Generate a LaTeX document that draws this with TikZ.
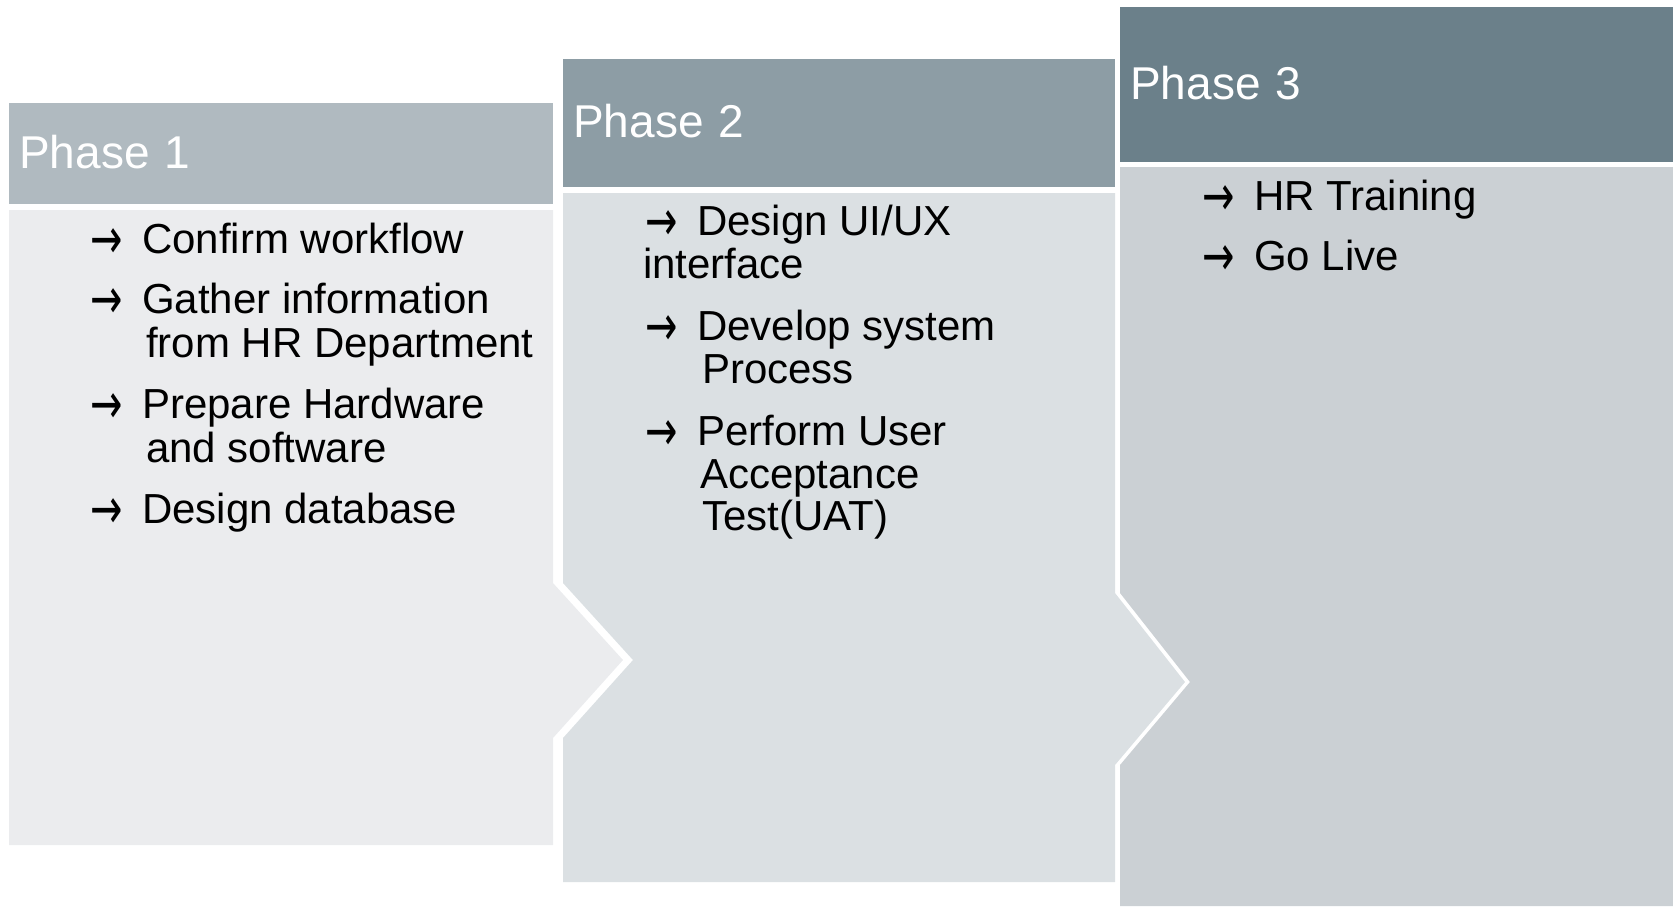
\documentclass[tikz,border=0pt]{standalone}
\usepackage{fontspec}
\setmainfont{Liberation Sans}
\newfontfamily\arrfont{DejaVu Sans}
\usepackage{tikz}
\definecolor{ph1col}{HTML}{B0BAC0}
\definecolor{ph2col}{HTML}{8D9DA5}
\definecolor{ph3col}{HTML}{6B808A}
\definecolor{ph1bg}{HTML}{EBECEE}
\definecolor{ph2bg}{HTML}{DBE0E3}
\definecolor{ph3bg}{HTML}{CBD0D4}
% bullet arrow in a fixed-width box, so the task text lines up
\newcommand{\arr}{\makebox[52pt][l]{\smash{\raisebox{-5pt}{\scalebox{0.92}[1.35]{\arrfont →}}}}}

\begin{document}
\begin{tikzpicture}[x=1pt, y=-1pt,
  head/.style={anchor=north west, inner xsep=10pt, inner ysep=0pt, text=white,
    align=left, text depth=4pt, font=\fontsize{46}{52}\selectfont},
  item/.style={anchor=base west, inner sep=0pt, font=\fontsize{42}{44}\selectfont}]
\useasboundingbox (0,0) rectangle (1673,906);

% ---------------------------------------------------------- body panels
% phase 1 ends in a chevron, the next panels carry the matching notch
\fill[ph1bg] (9,210) -- (553,210) -- (553,583) -- (623,660) -- (553,738)
  -- (553,845) -- (9,845) -- cycle;
\fill[ph2bg] (563,193) -- (1115,193) -- (1115,593) -- (1185,682) -- (1115,765)
  -- (1115,882) -- (563,882) -- (563,738) -- (633,660) -- (563,583) -- cycle;
\fill[ph3bg] (1120,167) -- (1673,167) -- (1673,906) -- (1120,906)
  -- (1120,765) -- (1190,682) -- (1120,593) -- cycle;

% ---------------------------------------------------------- header bars
\node[head, fill=ph1col, minimum height=101pt, text width=524pt] (h1) at (9,103) {Phase 1};
\node[head, fill=ph2col, minimum height=128pt, text width=532pt] (h2) at (563,59) {Phase 2};
\node[head, fill=ph3col, minimum height=155pt, text width=533pt] (h3) at (1120,7) {Phase 3};

% ---------------------------------------------------------- task lists
\foreach \txt/\xx/\yy [count=\n] in {{\arr Confirm workflow}/90/253,
    {\arr Gather information}/90/313, {from HR Department}/146/357,
    {\arr Prepare Hardware}/90/418, {and software}/146/462,
    {\arr Design database}/90/523}
  \node[item] (p1-\n) at (\xx,\yy) {\txt};

\foreach \txt/\xx/\yy [count=\n] in {{\arr Design UI/UX}/645/235,
    {interface}/643/278, {\arr Develop system}/645/340, {Process}/702/383,
    {\arr Perform User}/645/445, {Acceptance}/700/488, {Test(UAT)}/702/530}
  \node[item] (p2-\n) at (\xx,\yy) {\txt};

\foreach \txt/\xx/\yy [count=\n] in {{\arr HR Training}/1202/210,
    {\arr Go Live}/1202/270}
  \node[item] (p3-\n) at (\xx,\yy) {\txt};

\end{tikzpicture}
\end{document}
